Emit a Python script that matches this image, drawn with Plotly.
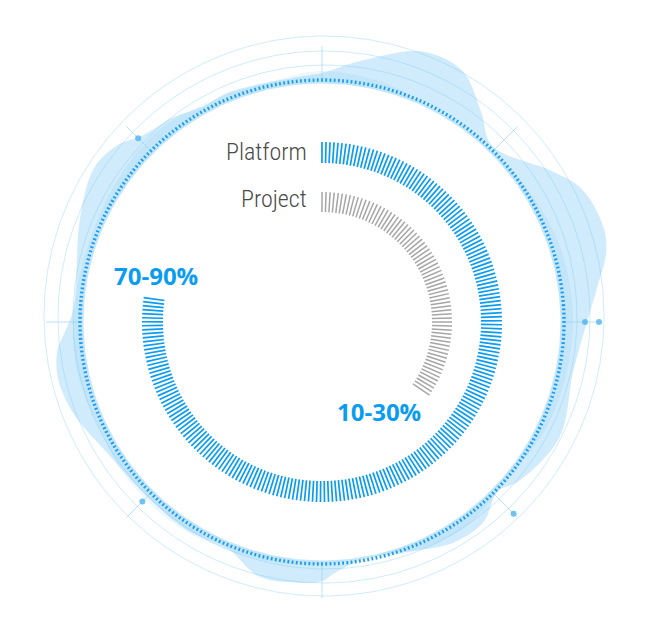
import numpy as np
import plotly.graph_objects as go

# ---------------- data ----------------
series_names = ["Platform", "Project"]
arc_extent_deg = [278, 125]          # clockwise sweep of each radial-bar arc from 12 o'clock
bar_step_deg = [1.28, 1.8]           # angular spacing of bars
range_labels = ["70-90%", "10-30%"]

# decorative wavy band outline (angle clockwise from top, radius in px)
blob_angle = [0, 8, 20, 29, 37, 44, 57, 63, 71, 76, 83, 90, 101, 116, 129, 134, 141, 149, 157, 162,
              170, 177, 180, 186, 194, 202, 205, 213, 225, 238, 250, 258, 264, 267, 273, 293, 304,
              311, 316, 324, 331, 338, 354]
blob_radius = [249, 263, 288, 288, 264, 245, 276, 292, 297, 293, 277, 265, 256, 264, 253, 244, 257,
               257, 248, 243, 241, 251, 259, 262, 262, 246, 245, 248, 247, 251, 265, 270, 266, 259,
               249, 263, 275, 270, 259, 253, 246, 248, 246]
band_angle = [0, 15, 25, 40, 55, 70, 85, 100, 115, 130, 145, 158, 170, 185, 200, 215, 230, 245,
              260, 275, 290, 305, 320, 335, 348]
band_radius = [251, 247, 241, 241, 244, 249, 251, 250, 248, 243, 250, 247, 240, 244, 246, 250, 250,
               247, 250, 248, 246, 249, 252, 247, 246]

CX, CY = 322, 322


def pt(a_deg, r, cx=CX, cy=CY):
    a = np.radians(a_deg)
    return cx + r * np.sin(a), cy - r * np.cos(a)


def segments(angles, r0, r1):
    xs, ys = [], []
    for a in angles:
        x0, y0 = pt(a, r0)
        x1, y1 = pt(a, r1)
        xs += [x0, x1, None]
        ys += [y0, y1, None]
    return xs, ys


def circle(cx, cy, r, n=361):
    t = np.linspace(0, 360, n)
    return [cx + r * np.sin(np.radians(v)) for v in t], [cy - r * np.cos(np.radians(v)) for v in t]


fig = go.Figure()

# outer thin circles
for (cx, cy, r) in [(324, 316, 280), (324, 317, 266), (325, 317, 252)]:
    x, y = circle(cx, cy, r)
    fig.add_trace(go.Scatter(x=x, y=y, mode="lines", line=dict(color="rgba(160,215,245,0.5)", width=1),
                             hoverinfo="skip", showlegend=False))

# wavy blob layers
bx, by = zip(*[pt(a, r) for a, r in zip(blob_angle + [blob_angle[0] + 360], blob_radius + [blob_radius[0]])])
fig.add_trace(go.Scatter(x=list(bx), y=list(by), mode="lines", line=dict(width=0, shape="spline", smoothing=1),
                         fill="toself", fillcolor="rgba(125,200,245,0.36)", hoverinfo="skip", showlegend=False))
bx2, by2 = zip(*[pt(a, r) for a, r in zip(band_angle + [band_angle[0] + 360], band_radius + [band_radius[0]])])
fig.add_trace(go.Scatter(x=list(bx2), y=list(by2), mode="lines", line=dict(width=0, shape="spline", smoothing=1),
                         fill="toself", fillcolor="rgba(110,190,245,0.12)", hoverinfo="skip", showlegend=False))

# white inner disk
wx, wy = circle(CX, CY, 238.5)
fig.add_trace(go.Scatter(x=wx, y=wy, mode="lines", line=dict(width=0), fill="toself", fillcolor="white",
                         hoverinfo="skip", showlegend=False))

# crosshair ticks
tx, ty = segments([0, 45, 90, 135, 180, 225, 270, 315], 243, 276)
fig.add_trace(go.Scatter(x=tx, y=ty, mode="lines", line=dict(color="rgba(150,210,245,0.65)", width=1),
                         hoverinfo="skip", showlegend=False))
dots = [(90, 263), (90, 277), (135, 271), (225, 254), (315, 260)]
dx, dy = zip(*[pt(a, r) for a, r in dots])
fig.add_trace(go.Scatter(x=list(dx), y=list(dy), mode="markers",
                         marker=dict(size=6, color="rgba(80,180,240,0.8)"), hoverinfo="skip", showlegend=False))

# dotted ring
rx, ry = segments(np.arange(0, 360, 1.0), 240.3, 243.7)
fig.add_trace(go.Scatter(x=rx, y=ry, mode="lines", line=dict(color="#1a9df0", width=1.8),
                         hoverinfo="skip", showlegend=False))

# radial bar arcs
ring_geom = [(159, 180, "#0a9cf0", 1.7), (110, 130, "#a6a6a6", 1.5)]
for name, ext, step, (r0, r1, col, w) in zip(series_names, arc_extent_deg, bar_step_deg, ring_geom):
    angles = np.arange(0, ext + 1e-6, step)
    x, y = segments(angles, r0, r1)
    fig.add_trace(go.Scatter(x=x, y=y, mode="lines", line=dict(color=col, width=w), name=name,
                             hoverinfo="skip", showlegend=False))

label_font = dict(family="Liberation Sans Narrow, Roboto Condensed, Open Sans Condensed, sans-serif",
                  size=24, color="#4a4a4a", weight=300)
fig.add_annotation(x=309, y=152, text=series_names[0], showarrow=False, xanchor="right", yanchor="middle",
                   font=label_font)
fig.add_annotation(x=309, y=199, text=series_names[1], showarrow=False, xanchor="right", yanchor="middle",
                   font=label_font)
pct_font = dict(family="Open Sans, sans-serif", size=24, color="#0a9cf0", weight="bold")
fig.add_annotation(x=156, y=275, text=range_labels[0], showarrow=False, xanchor="center", yanchor="middle",
                   font=pct_font)
fig.add_annotation(x=379, y=411, text=range_labels[1], showarrow=False, xanchor="center", yanchor="middle",
                   font=pct_font)

# page body has an 8px margin: shift the data window so marks land on the reference pixels
fig.update_xaxes(range=[8, 658], visible=False, fixedrange=True)
fig.update_yaxes(range=[643, 8], visible=False, fixedrange=True)
fig.update_layout(width=650, height=635, margin=dict(l=0, r=0, t=0, b=0),
                  plot_bgcolor="white", paper_bgcolor="white")

fig.write_html("out.html")
